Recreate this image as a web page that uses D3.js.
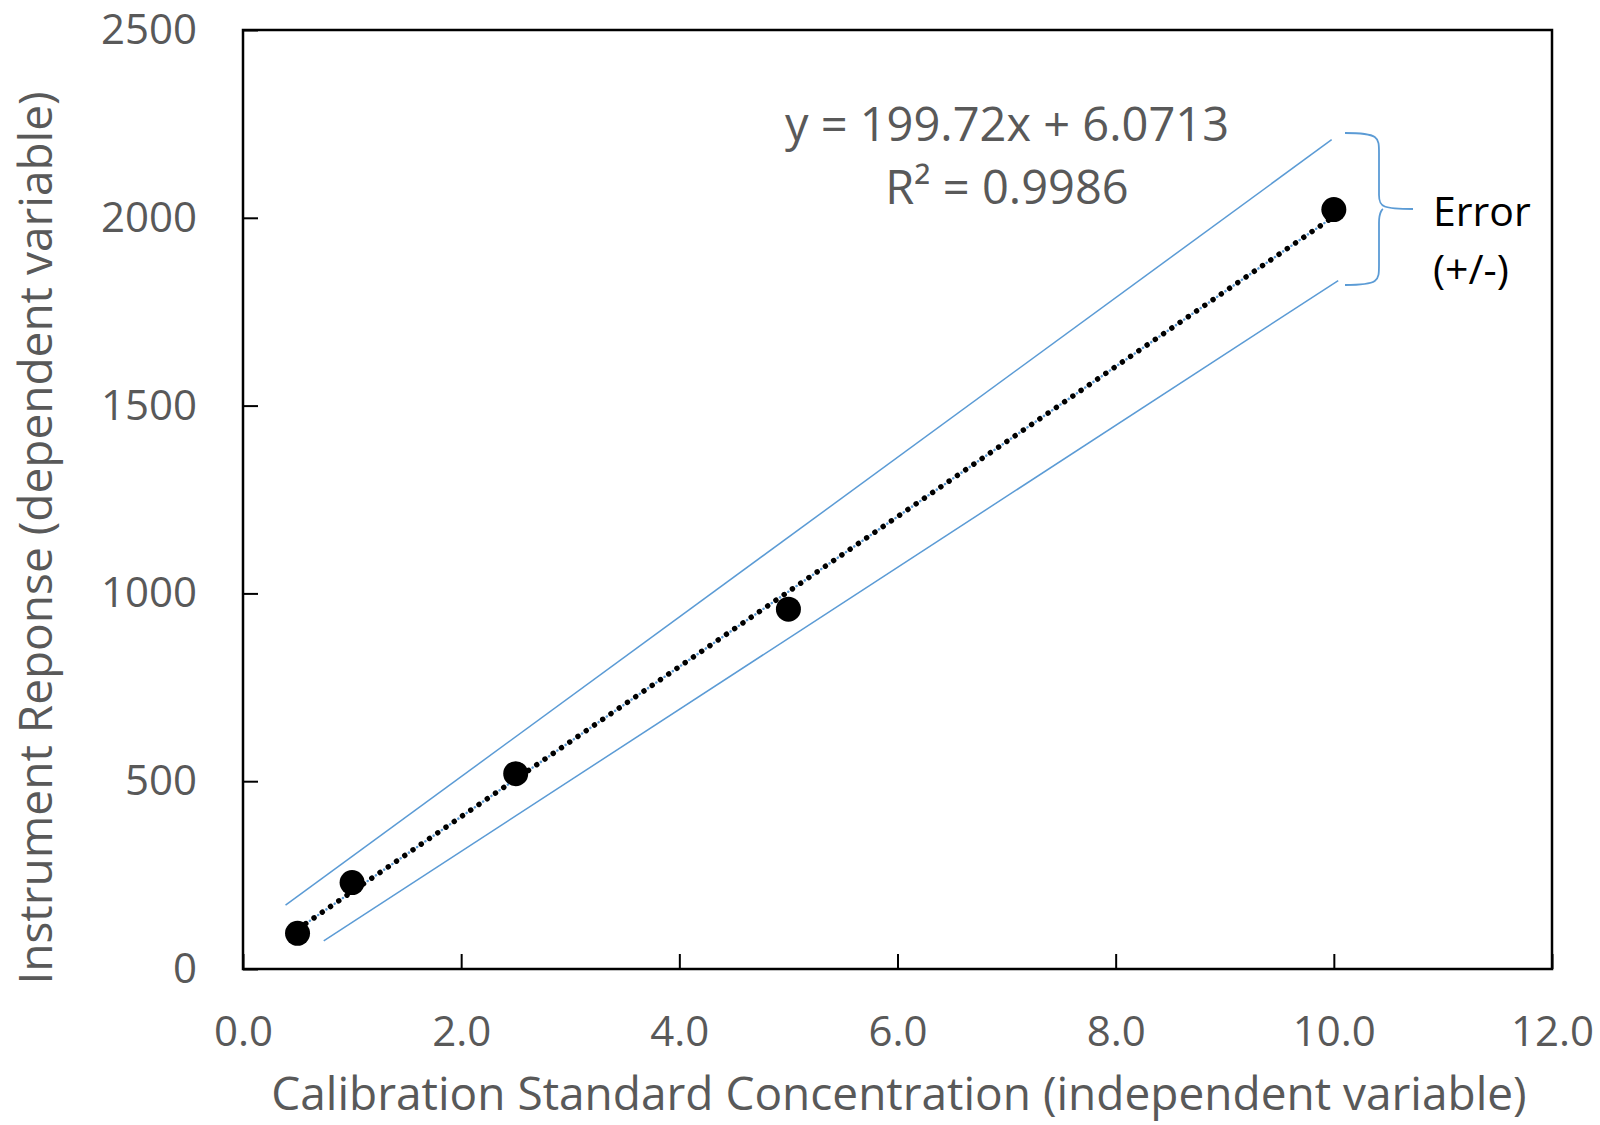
<!DOCTYPE html>
<html>
<head>
<meta charset="utf-8">
<script src="https://cdn.jsdelivr.net/npm/d3@7"></script>
<style>
  body { margin: 0; background: #fff; }
  text { font-family: "Open Sans", sans-serif; }
</style>
</head>
<body>
<script>
// calibration data
const concentrations = [0.5, 1.0, 2.5, 5.0, 10.0]
const responses = [95, 230, 520, 958, 2022]

// linear fit shown on chart
const slope = 199.72
const intercept = 6.0713
const rSquared = 0.9986

// error band edges (x, y)
const upperBandX = [0.39, 9.98]
const upperBandY = [170, 2208]
const lowerBandX = [0.74, 10.04]
const lowerBandY = [75, 1833]

const xTicks = [0, 2, 4, 6, 8, 10, 12]
const yTicks = [0, 500, 1000, 1500, 2000, 2500]

const w = 1600
const h = 1125
const padL = 243, padR = 1552, padT = 30, padB = 969
const gray = "#595959"
const blue = "#5B9BD5"

const xScale = d3.scaleLinear().domain([0, 12]).range([padL, padR])
const yScale = d3.scaleLinear().domain([0, 2500]).range([padB, padT])

const svg = d3.select("body")
              .append("svg")
              .attr("width", w)
              .attr("height", h)

const xAxis = d3.axisBottom(xScale)
                .tickValues(xTicks)
                .tickSizeInner(-15)
                .tickSizeOuter(0)
                .tickPadding(47)
                .tickFormat(d3.format(".1f"))
const yAxis = d3.axisLeft(yScale)
                .tickValues(yTicks)
                .tickSizeInner(-15)
                .tickSizeOuter(0)
                .tickPadding(46)
                .tickFormat(d3.format("d"))

const gx = svg.append("g")
   .attr("transform", "translate(0," + padB + ")")
   .call(xAxis)
const gy = svg.append("g")
   .attr("transform", "translate(" + padL + ",0)")
   .call(yAxis)

;[gx, gy].forEach(g => {
  g.select(".domain").remove()
  g.selectAll(".tick line").attr("stroke", "#000").attr("stroke-width", 2)
  g.selectAll(".tick text")
   .attr("fill", gray)
   .style("font-size", "42px")
})

// plot frame
svg.append("rect")
   .attr("x", padL)
   .attr("y", padT)
   .attr("width", padR - padL)
   .attr("height", padB - padT)
   .attr("fill", "none")
   .attr("stroke", "#000")
   .attr("stroke-width", 2.5)

// error band lines
const bandLine = d3.line().x(d => xScale(d[0])).y(d => yScale(d[1]))
;[[upperBandX, upperBandY], [lowerBandX, lowerBandY]].forEach(([bx, by]) => {
  svg.append("path")
     .attr("d", bandLine(d3.zip(bx, by)))
     .attr("fill", "none")
     .attr("stroke", blue)
     .attr("stroke-width", 1.5)
})

// series line (blue dotted) under trendline
const x0 = concentrations[0], x1 = concentrations[concentrations.length - 1]
const fitPts = [[x0, slope * x0 + intercept], [x1, slope * x1 + intercept]]
svg.append("path")
   .attr("d", bandLine(fitPts))
   .attr("fill", "none")
   .attr("stroke", blue)
   .attr("stroke-width", 2.5)
   .attr("stroke-linecap", "round")
   .attr("stroke-dasharray", "0.01 10")
   .attr("stroke-dashoffset", 5)

// trendline (black round dots)
svg.append("path")
   .attr("d", bandLine(fitPts))
   .attr("fill", "none")
   .attr("stroke", "#000")
   .attr("stroke-width", 5.5)
   .attr("stroke-linecap", "round")
   .attr("stroke-dasharray", "0.01 10")

// markers
svg.selectAll("circle.pt")
   .data(d3.zip(concentrations, responses))
   .enter()
   .append("circle")
   .attr("class", "pt")
   .attr("cx", d => xScale(d[0]))
   .attr("cy", d => yScale(d[1]))
   .attr("r", 12.5)
   .attr("fill", "#000")

// equation label
const eq = svg.append("text")
   .attr("text-anchor", "middle")
   .attr("fill", gray)
   .style("font-size", "47px")
eq.append("tspan").attr("x", 1007).attr("y", 141)
  .text("y = " + slope + "x + " + intercept)
eq.append("tspan").attr("x", 1007).attr("y", 204)
  .text("R² = " + rSquared)

// error brace
const bTop = 133, bMid = 209, bBot = 285, bx0 = 1345, bx1 = 1379, bxTip = 1413
svg.append("path")
   .attr("d", `M${bx0},${bTop} C${bx1},${bTop} ${bx1},${bTop + 4} ${bx1},${bTop + 20}
               L${bx1},${bMid - 14} C${bx1},${bMid - 2} ${bx1 + 4},${bMid} ${bxTip},${bMid}
               M${bx1},${bMid + 14} C${bx1},${bMid + 2} ${bx1 + 4},${bMid} ${bxTip - 30},${bMid}
               M${bx1},${bMid + 14} L${bx1},${bBot - 20} C${bx1},${bBot - 4} ${bx1},${bBot} ${bx0},${bBot}`)
   .attr("fill", "none")
   .attr("stroke", blue)
   .attr("stroke-width", 1.8)

svg.append("text")
   .attr("x", 1433).attr("y", 226)
   .attr("fill", "#000")
   .style("font-size", "41px")
   .text("Error")
svg.append("text")
   .attr("x", 1433).attr("y", 284)
   .attr("fill", "#000")
   .style("font-size", "41px")
   .text("(+/-)")

// axis titles
svg.append("text")
   .attr("x", 899).attr("y", 1110)
   .attr("text-anchor", "middle")
   .attr("fill", gray)
   .style("font-size", "46px")
   .text("Calibration Standard Concentration (independent variable)")

svg.append("text")
   .attr("transform", "translate(52,538) rotate(-90)")
   .attr("text-anchor", "middle")
   .attr("fill", gray)
   .style("font-size", "46px")
   .text("Instrument Reponse (dependent variable)")
</script>
</body>
</html>
